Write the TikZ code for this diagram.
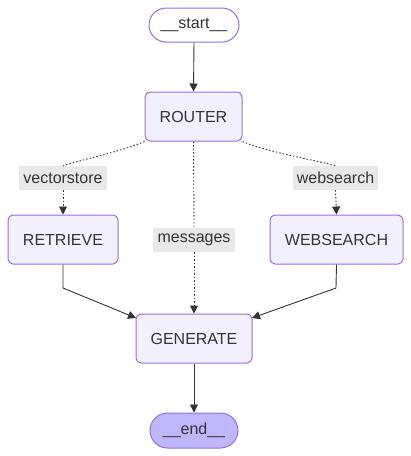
\documentclass[tikz,border=0pt]{standalone}
\usepackage{fontspec}
\setmainfont{Liberation Sans}
\usetikzlibrary{arrows.meta,shapes.misc}
\definecolor{nodefill}{HTML}{F2F0FF}
\definecolor{nodeline}{HTML}{9370DB}
\definecolor{endfill}{HTML}{BFB6FC}
\definecolor{txt}{HTML}{333333}
\definecolor{lblbg}{HTML}{E8E8E8}
\tikzset{
  x=1pt,y=-1pt,
  every node/.style={font=\fontsize{16}{19}\selectfont, text=txt},
  box/.style={draw=nodeline, fill=nodefill, line width=1pt, rounded corners=5pt, inner sep=0pt},
  term/.style={draw=nodeline, line width=1pt, rounded rectangle, inner sep=0pt},
  lbl/.style={fill=lblbg, inner sep=0pt},
  dotline/.style={draw=txt, line width=0.9pt, dash pattern=on 1.5pt off 2pt},
  solidedge/.style={draw=txt, line width=0.9pt, -{Triangle[length=8pt,width=8pt]}},
  dotedge/.style={dotline, -{Triangle[length=8pt,width=8pt]}},
}
\begin{document}
\begin{tikzpicture}
\useasboundingbox (0,0) rectangle (411,456);
\node[term, fill=white, minimum width=90pt, minimum height=34pt] (start) at (194,25) {\_\_start\_\_};
\node[box, minimum width=97pt, minimum height=49pt] (router) at (193.5,116.5) {ROUTER};
\node[box, minimum width=110pt, minimum height=49pt] (retrieve) at (63,239.5) {RETRIEVE};
\node[box, minimum width=133pt, minimum height=49pt] (web) at (336.5,239.5) {WEBSEARCH};
\node[box, minimum width=116pt, minimum height=49pt] (gen) at (194,338.5) {GENERATE};
\node[term, fill=endfill, minimum width=88pt, minimum height=35pt] (end) at (194,430.5) {\_\_end\_\_};

\node[lbl, minimum width=88pt, minimum height=24pt] (lv) at (63,178) {vectorstore};
\node[lbl, minimum width=85pt, minimum height=24pt] (lw) at (335.5,178) {websearch};
\node[lbl, minimum width=82pt, minimum height=24pt] (lm) at (194,240) {messages};

\coordinate (rb) at (63,288);
\coordinate (wb) at (336,288);
\coordinate (gl) at (136,318);
\coordinate (gr) at (252,318);

\draw[solidedge] (start.south) -- (router.north);
\draw[dotline] (router.south west) .. controls (120,152) and (80,160) .. (lv.north);
\draw[dotedge] (lv.south) -- (retrieve.north);
\draw[dotline] (router.south east) .. controls (267,152) and (315,160) .. (lw.north);
\draw[dotedge] (lw.south) -- (web.north);
\draw[dotline] (router.south) -- (lm.north);
\draw[dotedge] (lm.south) -- (gen.north);
\draw[solidedge] (retrieve.south) -- (rb) -- (gl);
\draw[solidedge] (web.south) -- (wb) -- (gr);
\draw[solidedge] (gen.south) -- (end.north);
\end{tikzpicture}
\end{document}
